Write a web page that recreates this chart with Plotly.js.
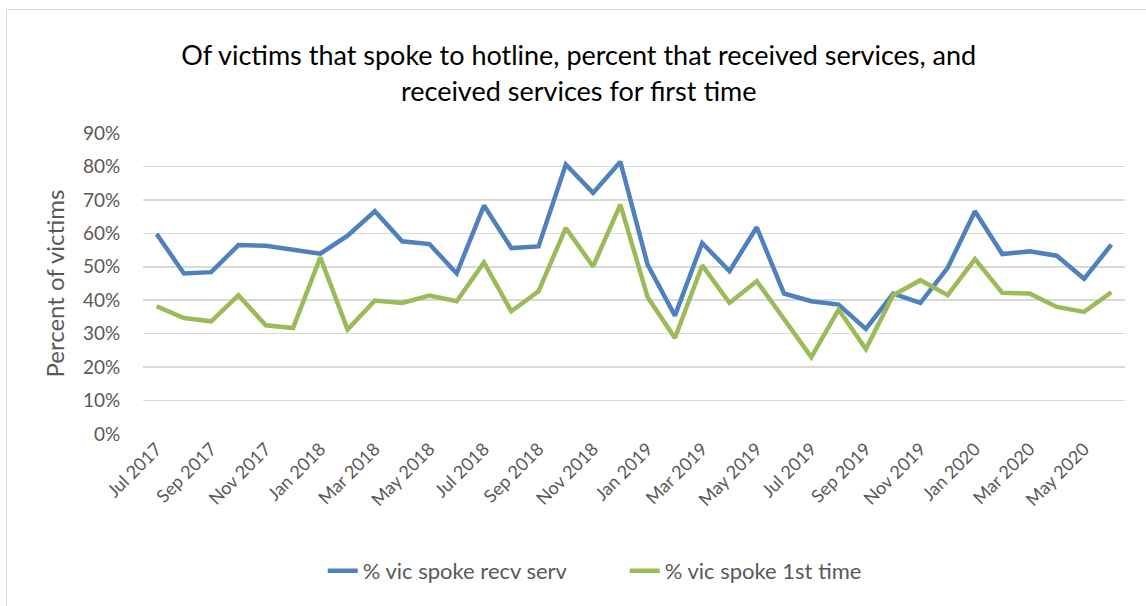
<!DOCTYPE html>
<html>
<head>
<meta charset="utf-8">
<script src="https://cdn.plot.ly/plotly-3.0.1.min.js"></script>
<style>
  html, body { margin: 0; padding: 0; overflow: hidden; background: #fff; }
  #chart { width: 1146px; height: 606px; }
  #frame { position: absolute; left: 6px; top: 9px; width: 1300px; height: 800px;
           border: 1px solid #d9d9d9; pointer-events: none; }
</style>
</head>
<body>
<div id="chart"></div>
<div id="frame"></div>
<script>
const months = ["Jul 2017","Aug 2017","Sep 2017","Oct 2017","Nov 2017","Dec 2017",
  "Jan 2018","Feb 2018","Mar 2018","Apr 2018","May 2018","Jun 2018",
  "Jul 2018","Aug 2018","Sep 2018","Oct 2018","Nov 2018","Dec 2018",
  "Jan 2019","Feb 2019","Mar 2019","Apr 2019","May 2019","Jun 2019",
  "Jul 2019","Aug 2019","Sep 2019","Oct 2019","Nov 2019","Dec 2019",
  "Jan 2020","Feb 2020","Mar 2020","Apr 2020","May 2020","Jun 2020"];

const recvServ = [0.598,0.480,0.484,0.565,0.563,0.551,
  0.539,0.593,0.666,0.576,0.568,0.480,
  0.683,0.556,0.561,0.806,0.721,0.814,
  0.506,0.354,0.571,0.487,0.618,0.420,
  0.397,0.387,0.314,0.420,0.392,0.497,
  0.666,0.538,0.546,0.533,0.464,0.566];

const firstTime = [0.382,0.347,0.337,0.415,0.325,0.317,
  0.528,0.312,0.399,0.392,0.414,0.397,
  0.513,0.367,0.427,0.616,0.501,0.686,
  0.409,0.287,0.504,0.392,0.457,0.342,
  0.230,0.372,0.254,0.415,0.460,0.415,
  0.523,0.422,0.420,0.380,0.365,0.424];

const seriesNames = ["% vic spoke recv serv", "% vic spoke 1st time"];
const tickLabels = months.filter((m, i) => i % 2 === 0);

const FONT = "Lato, 'Open Sans', sans-serif";

const traces = [
  { x: months, y: recvServ, name: seriesNames[0], type: "scatter", mode: "lines",
    line: { color: "#4f81bd", width: 4.5 } },
  { x: months, y: firstTime, name: seriesNames[1], type: "scatter", mode: "lines",
    line: { color: "#9bbb59", width: 4.5 } }
];

const layout = {
  width: 1146, height: 606,
  paper_bgcolor: "#ffffff", plot_bgcolor: "#ffffff",
  margin: { l: 143, r: 21, t: 133, b: 172 },
  font: { family: FONT, color: "#595959" },
  title: {
    text: "Of victims that spoke to hotline, percent that received services, and<br>received services for first time",
    font: { family: FONT, size: 27, color: "#000000" },
    x: 0.505, xanchor: "center", y: 0.892, yanchor: "top", yref: "container"
  },
  xaxis: {
    type: "category",
    tickmode: "array", tickvals: tickLabels, ticktext: tickLabels,
    tickangle: -45, tickfont: { family: FONT, size: 18, color: "#595959" },
    showgrid: false, zeroline: false, showline: false, ticks: "",
    range: [-0.5, months.length - 0.5]
  },
  yaxis: {
    range: [0, 0.9], dtick: 0.1, tickformat: ".0%",
    tickfont: { family: FONT, size: 19, color: "#595959" },
    gridcolor: "#d9d9d9", gridwidth: 1.5, zeroline: false, showline: false,
    ticks: "outside", ticklen: 18, tickcolor: "rgba(0,0,0,0)",
    title: { text: "Percent of victims", font: { family: FONT, size: 24, color: "#595959" }, standoff: 11 }
  },
  legend: {
    orientation: "h", x: 0.183, xanchor: "left", y: -0.455, yanchor: "middle",
    font: { family: FONT, size: 22, color: "#595959" },
    entrywidth: 257, entrywidthmode: "pixels", traceorder: "normal"
  },
  showlegend: true
};

Plotly.newPlot("chart", traces, layout, { displayModeBar: false, staticPlot: true });
</script>
</body>
</html>
